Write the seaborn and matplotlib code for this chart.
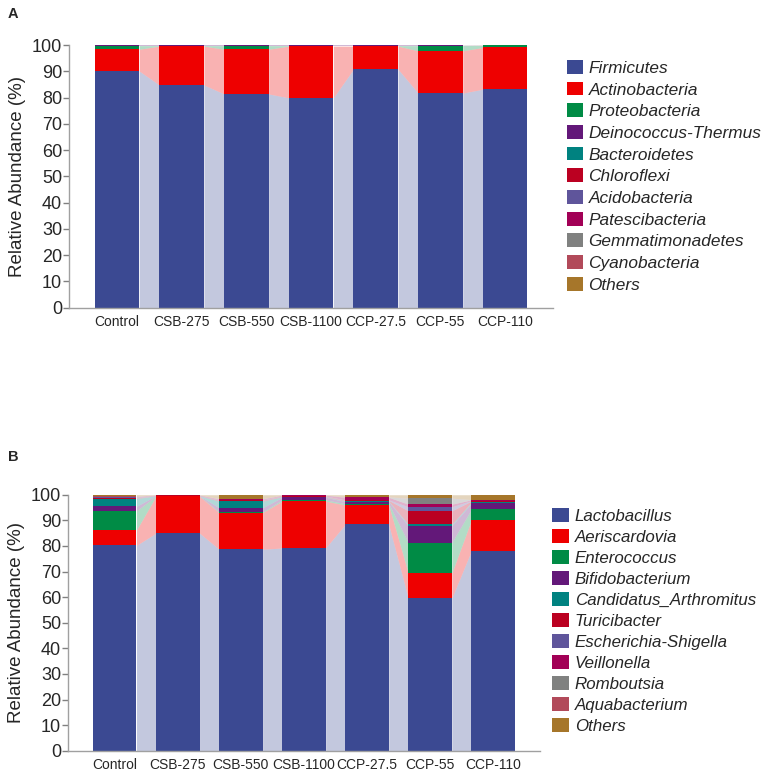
import numpy as np
import pandas as pd
import seaborn as sns
import matplotlib
matplotlib.use('Agg')
import matplotlib.pyplot as plt
from matplotlib.patches import Patch

groups = ['Control', 'CSB-275', 'CSB-550', 'CSB-1100', 'CCP-27.5', 'CCP-55', 'CCP-110']

# panel A - phylum level
phyla = ['Firmicutes', 'Actinobacteria', 'Proteobacteria', 'Deinococcus-Thermus',
         'Bacteroidetes', 'Chloroflexi', 'Acidobacteria', 'Patescibacteria',
         'Gemmatimonadetes', 'Cyanobacteria', 'Others']
firmicutes      = [90.1, 84.8, 81.4, 79.9, 90.8, 81.7, 83.2]
actinobacteria  = [8.3, 14.8, 17.0, 19.7, 8.8, 16.1, 15.9]
proteobacteria  = [1.4, 0.2, 1.4, 0.2, 0.2, 2.0, 0.8]
deinococcus     = [0.05, 0.05, 0.05, 0.05, 0.05, 0.05, 0.02]
bacteroidetes   = [0.05, 0.05, 0.05, 0.05, 0.05, 0.05, 0.02]
chloroflexi     = [0.02, 0.02, 0.02, 0.02, 0.02, 0.02, 0.02]
acidobacteria   = [0.02, 0.02, 0.02, 0.02, 0.02, 0.02, 0.02]
patescibacteria = [0.02, 0.02, 0.02, 0.02, 0.02, 0.02, 0.02]
gemmatimonadetes = [0.01, 0.01, 0.01, 0.01, 0.01, 0.01, 0.01]
cyanobacteria   = [0.01, 0.01, 0.01, 0.01, 0.01, 0.01, 0.01]
others_a        = [0.02, 0.02, 0.02, 0.02, 0.02, 0.02, 0.02]

# panel B - genus level
genera = ['Lactobacillus', 'Aeriscardovia', 'Enterococcus', 'Bifidobacterium',
          'Candidatus_Arthromitus', 'Turicibacter', 'Escherichia-Shigella',
          'Veillonella', 'Romboutsia', 'Aquabacterium', 'Others']
lactobacillus = [80.2, 85.0, 78.7, 79.2, 88.4, 59.5, 78.1]
aeriscardovia = [6.0, 14.4, 14.3, 18.3, 7.6, 9.8, 12.0]
enterococcus  = [7.5, 0.1, 0.3, 0.5, 0.5, 12.0, 4.2]
bifidobacterium = [1.8, 0.1, 1.6, 1.0, 0.8, 6.6, 2.3]
candidatus    = [3.0, 0.0, 2.6, 0.2, 0.2, 0.5, 0.5]
turicibacter  = [0.2, 0.1, 0.3, 0.2, 0.3, 5.3, 0.4]
escherichia   = [0.3, 0.0, 0.2, 0.1, 0.2, 1.6, 0.2]
veillonella   = [0.2, 0.2, 0.3, 0.3, 1.0, 1.0, 0.3]
romboutsia    = [0.1, 0.0, 0.1, 0.0, 0.1, 2.3, 0.1]
aquabacterium = [0.1, 0.0, 0.1, 0.0, 0.1, 0.1, 0.0]
others_b      = [0.6, 0.1, 1.5, 0.2, 0.8, 1.3, 1.9]

colors = ['#3B4992', '#EE0000', '#008B45', '#631879', '#008280', '#BB0021',
          '#5F559B', '#A20056', '#808180', '#B24A5A', '#A6762A']

sns.set_style('white')
plt.rcParams['font.family'] = ['Liberation Sans', 'DejaVu Sans']

fig = plt.figure(figsize=(7.67, 7.77), dpi=100)
axA = fig.add_axes([0.090, 0.604, 0.631, 0.338])
axB = fig.add_axes([0.0887, 0.0338, 0.615, 0.3295])

W = 0.69


def stacked(ax, names, layers):
    df = pd.DataFrame(dict(zip(names, layers)), index=groups)
    cum = df.cumsum(axis=1)
    x = np.arange(len(groups))
    # ribbons between bars
    for j, name in enumerate(names):
        top = cum[name].values
        bot = top - df[name].values
        for i in range(len(groups) - 1):
            ax.fill_between([x[i] + W / 2, x[i + 1] - W / 2],
                            [bot[i], bot[i + 1]], [top[i], top[i + 1]],
                            color=colors[j], alpha=0.3, lw=0, zorder=1)
    # bars: draw cumulative tops from the highest layer down
    for j in range(len(names) - 1, -1, -1):
        d = pd.DataFrame({'group': groups, 'val': cum[names[j]].values})
        sns.barplot(data=d, x='group', y='val', color=colors[j], saturation=1,
                    width=W, ax=ax, zorder=2, linewidth=0)
    ax.set_xlim(-0.74, len(groups) - 0.26)
    ax.set_ylim(0, 100)
    ax.set_yticks(range(0, 101, 10))
    ax.set_xlabel('')
    ax.set_ylabel('Relative Abundance (%)', fontsize=13.5, labelpad=4)
    for s in ['top', 'right']:
        ax.spines[s].set_visible(False)
    for s in ['left', 'bottom']:
        ax.spines[s].set_color('#A0A0A0')
        ax.spines[s].set_linewidth(1.0)
    ax.tick_params(axis='y', left=True, length=4, width=1, color='#808080',
                   pad=1, labelsize=13)
    ax.tick_params(axis='x', bottom=False, length=0, pad=5, labelsize=10)
    handles = [Patch(facecolor=c, edgecolor='none') for c in colors]
    return handles


hA = stacked(axA, phyla, [firmicutes, actinobacteria, proteobacteria, deinococcus,
                          bacteroidetes, chloroflexi, acidobacteria, patescibacteria,
                          gemmatimonadetes, cyanobacteria, others_a])
hB = stacked(axB, genera, [lactobacillus, aeriscardovia, enterococcus, bifidobacterium,
                           candidatus, turicibacter, escherichia, veillonella,
                           romboutsia, aquabacterium, others_b])

fig.legend(hA, phyla, loc='upper left', bbox_to_anchor=(567 / 767, 1 - 60 / 777),
           frameon=False, prop={'size': 12.4, 'style': 'italic'},
           handlelength=0.9, handleheight=0.85, handletextpad=0.35,
           labelspacing=0.34, borderpad=0, borderaxespad=0)
fig.legend(hB, genera, loc='upper left', bbox_to_anchor=(552 / 767, 1 - 508 / 777),
           frameon=False, prop={'size': 12.2, 'style': 'italic'},
           handlelength=1.0, handleheight=0.85, handletextpad=0.35,
           labelspacing=0.32, borderpad=0, borderaxespad=0)

fig.text(8 / 767, 1 - 18 / 777, 'A', fontsize=10.5, fontweight='bold')
fig.text(8 / 767, 1 - 461 / 777, 'B', fontsize=10.5, fontweight='bold')

fig.savefig('out.png', dpi=100)
